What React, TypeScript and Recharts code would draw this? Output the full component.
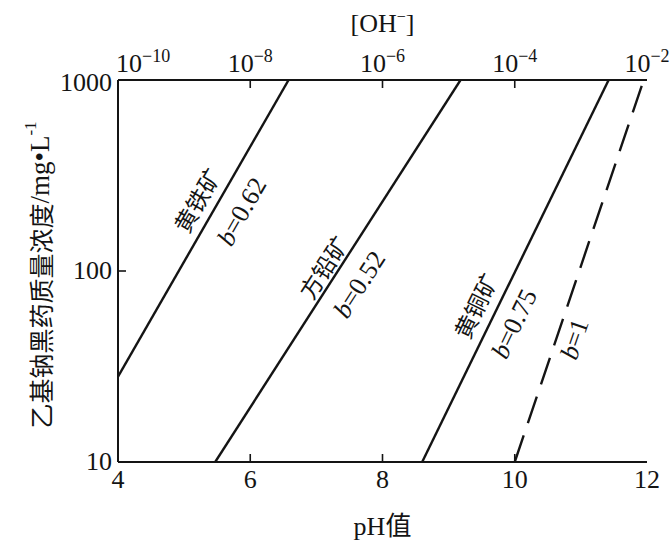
import React from 'react'
import { LineChart, Line, XAxis, YAxis, ReferenceDot } from 'recharts'

// pH 值 vs 乙基钠黑药质量浓度 (mg/L), 对数坐标
const pyrite = [
  { pH: 4, c: 28 },
  { pH: 6.58, c: 1000 },
]
const galena = [
  { pH: 5.47, c: 10 },
  { pH: 9.18, c: 1000 },
]
const chalcopyrite = [
  { pH: 8.6, c: 10 },
  { pH: 11.42, c: 1000 },
]
const slopeOne = [
  { pH: 10, c: 10 },
  { pH: 11.95, c: 1000 },
]

const phTicks = [4, 6, 8, 10, 12]
const concTicks = [10, 100, 1000]

// 标注: 名称 / b 值, 以数据坐标定位
const lineLabels = [
  { pH: 5.19, c: 236, text: '黄铁矿', angle: -60, kind: 'cn' },
  { pH: 5.87, c: 205, text: 'b=0.62', angle: -60, kind: 'b' },
  { pH: 7.1, c: 105, text: '方铅矿', angle: -57, kind: 'cn' },
  { pH: 7.65, c: 85, text: 'b=0.52', angle: -57, kind: 'b' },
  { pH: 9.4, c: 66, text: '黄铜矿', angle: -64, kind: 'cn' },
  { pH: 9.99, c: 53, text: 'b=0.75', angle: -64, kind: 'b' },
  { pH: 10.9, c: 44, text: 'b=1', angle: -71, kind: 'b' },
]

const SERIF = "'Liberation Serif', 'Noto Sans CJK SC', serif"
const CJK = "'Noto Sans CJK SC', 'Liberation Serif', sans-serif"
const INK = '#141414'

const BottomTick = (props: any) => {
  const { x, y, payload } = props
  const v = payload.value
  const inner = v !== 4 && v !== 12
  return (
    <g>
      {inner && <line x1={x} y1={y} x2={x} y2={y - 8} stroke={INK} strokeWidth={1.6} />}
      <text x={x} y={y + 26} textAnchor="middle" fontSize={26} fontFamily={SERIF} fill={INK}>
        {v}
      </text>
    </g>
  )
}

const TopTick = (props: any) => {
  const { x, y, payload } = props
  const v = payload.value
  const exp = v - 14
  const inner = v !== 4 && v !== 12
  const anchor = v === 4 ? 'start' : 'middle'
  return (
    <g>
      {inner && <line x1={x} y1={y} x2={x} y2={y + 8} stroke={INK} strokeWidth={1.6} />}
      <text x={v === 4 ? x - 2 : x} y={y - 8} textAnchor={anchor} fontSize={26} fontFamily={SERIF} fill={INK}>
        10
        <tspan fontSize={18} dy={-10}>
          {'\u2212' + Math.abs(exp)}
        </tspan>
      </text>
    </g>
  )
}

const LeftTick = (props: any) => {
  const { x, y, payload } = props
  const v = payload.value
  return (
    <g>
      {v === 100 && <line x1={x} y1={y} x2={x + 8} y2={y} stroke={INK} strokeWidth={1.6} />}
      <text x={x - 6} y={y + (v === 1000 ? 11 : 8)} textAnchor="end" fontSize={26} fontFamily={SERIF} fill={INK}>
        {v}
      </text>
    </g>
  )
}

const makeLabel = (text: string, angle: number, kind: string) => (props: any) => {
  const vb = props.viewBox || {}
  const cx = vb.x + (vb.width || 0) / 2
  const cy = vb.y + (vb.height || 0) / 2
  if (kind === 'cn') {
    return (
      <text
        x={cx}
        y={cy}
        transform={`rotate(${angle} ${cx} ${cy})`}
        textAnchor="middle"
        dominantBaseline="central"
        fontSize={23}
        fontFamily={CJK}
        fill={INK}
      >
        {text}
      </text>
    )
  }
  return (
    <text
      x={cx}
      y={cy}
      transform={`rotate(${angle} ${cx} ${cy})`}
      textAnchor="middle"
      dominantBaseline="central"
      fontSize={26}
      fontFamily={SERIF}
      fill={INK}
    >
      <tspan fontStyle="italic">b</tspan>
      {text.slice(1)}
    </text>
  )
}

export default function App() {
  return (
    <div style={{ position: 'absolute', left: 0, top: 0, background: '#fff' }}>
      <LineChart width={672} height={546} margin={{ top: 0, right: 25, bottom: 0, left: 0 }}>
        <XAxis
          xAxisId="bottom"
          dataKey="pH"
          type="number"
          domain={[4, 12]}
          ticks={phTicks}
          interval={0}
          allowDataOverflow
          height={84}
          stroke={INK}
          strokeWidth={2}
          tickLine={false}
          tickSize={0}
          tickMargin={0}
          tick={<BottomTick />}
          label={{
            content: (p: any) => (
              <text
                x={p.viewBox.x + p.viewBox.width / 2}
                y={p.viewBox.y + 73}
                textAnchor="middle"
                fontSize={26}
                fontFamily={SERIF}
                fill={INK}
              >
                pH值
              </text>
            ),
          }}
        />
        <XAxis
          xAxisId="top"
          orientation="top"
          dataKey="pH"
          type="number"
          domain={[4, 12]}
          ticks={phTicks}
          interval={0}
          allowDataOverflow
          height={80}
          stroke={INK}
          strokeWidth={2}
          tickLine={false}
          tickSize={0}
          tickMargin={0}
          tick={<TopTick />}
          label={{
            content: (p: any) => (
              <text
                x={p.viewBox.x + p.viewBox.width / 2}
                y={32}
                textAnchor="middle"
                fontSize={26}
                fontFamily={SERIF}
                fill={INK}
              >
                [OH
                <tspan fontSize={16} dy={-10}>
                  −
                </tspan>
                <tspan dy={10}>]</tspan>
              </text>
            ),
          }}
        />
        <YAxis
          yAxisId="left"
          scale="log"
          type="number"
          domain={[10, 1000]}
          ticks={concTicks}
          interval={0}
          allowDataOverflow
          width={118}
          stroke={INK}
          strokeWidth={2}
          tickLine={false}
          tickSize={0}
          tickMargin={0}
          tick={<LeftTick />}
          label={{
            content: (p: any) => {
              const cx = 40
              const cy = p.viewBox.y + p.viewBox.height / 2 + 4
              return (
                <text
                  x={cx}
                  y={cy}
                  transform={`rotate(-90 ${cx} ${cy})`}
                  textAnchor="middle"
                  dominantBaseline="central"
                  fontSize={25}
                  fontFamily={CJK}
                  fill={INK}
                >
                  乙基钠黑药质量浓度
                  <tspan fontFamily={SERIF} fontSize={27}>/mg•L</tspan>
                  <tspan fontFamily={SERIF} fontSize={17} dy={-10}>-1</tspan>
                </text>
              )
            },
          }}
        />
        <YAxis
          yAxisId="right"
          orientation="right"
          type="number"
          domain={[0, 1]}
          width={0}
          stroke={INK}
          strokeWidth={2}
          tick={false}
          tickLine={false}
        />
        <Line xAxisId="bottom" yAxisId="left" data={pyrite} dataKey="c" stroke={INK} strokeWidth={2.4} dot={false} isAnimationActive={false} />
        <Line xAxisId="bottom" yAxisId="left" data={galena} dataKey="c" stroke={INK} strokeWidth={2.4} dot={false} isAnimationActive={false} />
        <Line xAxisId="bottom" yAxisId="left" data={chalcopyrite} dataKey="c" stroke={INK} strokeWidth={2.4} dot={false} isAnimationActive={false} />
        <Line
          xAxisId="bottom"
          yAxisId="left"
          data={slopeOne}
          dataKey="c"
          stroke={INK}
          strokeWidth={2.4}
          strokeDasharray="28 13"
          dot={false}
          isAnimationActive={false}
        />
        {lineLabels.map((l) => (
          <ReferenceDot
            key={l.text}
            xAxisId="bottom"
            yAxisId="left"
            x={l.pH}
            y={l.c}
            r={1}
            fill="none"
            stroke="none"
            label={makeLabel(l.text, l.angle, l.kind)}
          />
        ))}
      </LineChart>
    </div>
  )
}
